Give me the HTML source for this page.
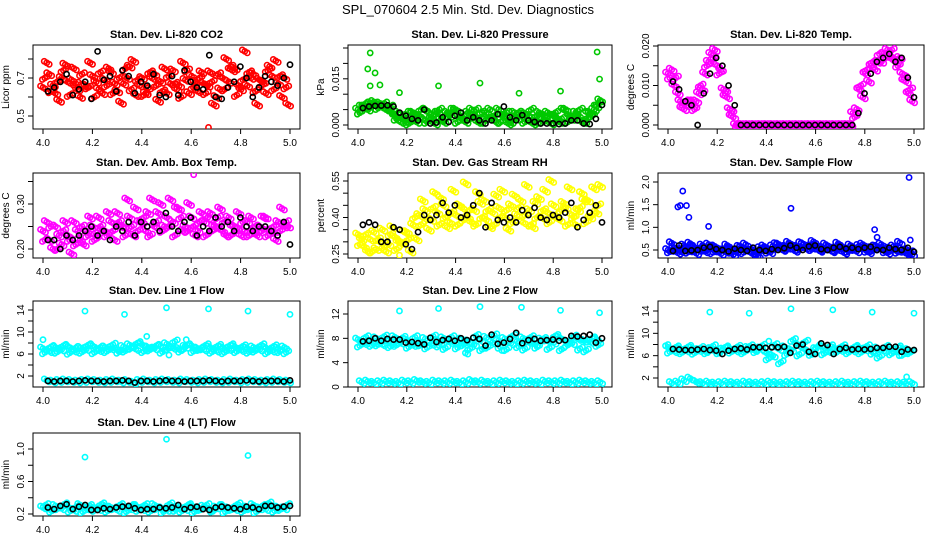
<!DOCTYPE html>
<html><head><meta charset="utf-8"><style>
html,body{margin:0;padding:0;background:#fff}
svg{display:block;font-family:"Liberation Sans",sans-serif}
</style></head><body>
<svg id="chart" width="936" height="540" viewBox="0 0 936 540">
<text x="468" y="14" text-anchor="middle" font-size="13">SPL_070604  2.5 Min. Std. Dev. Diagnostics</text>
</svg>
<script>
// ---------- data ----------
const xTicks = [4.0, 4.2, 4.4, 4.6, 4.8, 5.0];
const titles = ["Stan. Dev. Li-820 CO2","Stan. Dev. Li-820 Pressure","Stan. Dev. Li-820 Temp.","Stan. Dev. Amb. Box Temp.","Stan. Dev. Gas Stream RH","Stan. Dev. Sample Flow","Stan. Dev. Line 1 Flow","Stan. Dev. Line 2 Flow","Stan. Dev. Line 3 Flow","Stan. Dev. Line 4 (LT) Flow"];
const yTitles = ["Licor ppm","kPa","degrees C","degrees C","percent","ml/min","ml/min","ml/min","ml/min","ml/min"];

const co2Band = [
[0.65,0.72,0.62,0.70,0.68,0.75,0.60,0.66,0.71,0.64,0.69,0.73,0.63,0.67,0.76,0.61,0.70,0.65,0.72,0.68,0.62,0.74,0.66,0.69,0.71,0.63,0.67,0.73,0.60,0.70,0.68,0.75,0.64,0.66,0.72,0.69,0.62,0.71,0.67,0.70],
[0.70,0.63,0.68,0.74,0.61,0.67,0.72,0.65,0.60,0.73,0.66,0.62,0.70,0.75,0.64,0.69,0.61,0.73,0.66,0.63,0.71,0.67,0.60,0.74,0.65,0.70,0.62,0.68,0.72,0.64,0.76,0.61,0.69,0.73,0.63,0.66,0.74,0.64,0.71,0.65],
[0.78,0.66,0.58,0.77,0.69,0.64,0.66,0.78,0.68,0.62,0.75,0.67,0.57,0.70,0.79,0.66,0.62,0.70,0.58,0.75,0.67,0.64,0.78,0.62,0.68,0.73,0.66,0.56,0.64,0.80,0.74,0.66,0.84,0.70,0.56,0.68,0.76,0.79,0.60,0.56]];
const co2OutX = [4.67]; const co2OutY = [0.44];
const co2Black = [0.63,0.65,0.68,0.72,0.61,0.64,0.68,0.59,0.84,0.69,0.71,0.63,0.74,0.71,0.62,0.68,0.66,0.72,0.61,0.60,0.71,0.61,0.74,0.68,0.65,0.64,0.82,0.60,0.59,0.65,0.68,0.76,0.70,0.60,0.65,0.71,0.68,0.66,0.70,0.77];

const presBand = [
[0.005,0.006,0.007,0.0065,0.006,0.005,0.003,0.001,0.002,0.004,0.003,0.005,0.002,0.004,0.001,0.003,0.005,0.002,0.004,0.003,0.001,0.004,0.002,0.005,0.003,0.001,0.002,0.004,0.003,0.001,0.002,0.004,0.003,0.001,0.005,0.002,0.003,0.001,0.004,0.006],
[0.004,0.007,0.006,0.0055,0.007,0.006,0.002,0.003,0.0005,0.002,0.005,0.001,0.003,0.005,0.002,0.004,0.001,0.003,0.002,0.005,0.004,0.002,0.003,0.001,0.004,0.002,0.004,0.001,0.005,0.003,0.001,0.003,0.004,0.002,0.001,0.003,0.005,0.002,0.003,0.007],
[0.006,0.005,0.0075,0.007,0.005,0.004,0.004,0.0015,0.004,0.001,0.002,0.004,0.0005,0.002,0.004,0.005,0.003,0.001,0.005,0.001,0.002,0.005,0.001,0.003,0.0005,0.004,0.003,0.002,0.0005,0.004,0.003,0.0005,0.002,0.005,0.003,0.004,0.001,0.004,0.005,0.008]];
const presOutX = [4.05,4.04,4.07,4.05,4.09,4.17,4.33,4.50,4.66,4.83,4.98,4.99];
const presOutY = [0.0234,0.0182,0.0169,0.0127,0.013,0.0105,0.0127,0.0136,0.0103,0.011,0.0237,0.0149];
const presBlack = [0.0055,0.006,0.0062,0.0063,0.0064,0.006,0.004,0.003,0.002,0.0015,0.005,0.0005,0.0008,0.0025,0.001,0.003,0.004,0.0015,0.0025,0.0015,0.0005,0.0015,0.0035,0.006,0.0025,0.0015,0.0032,0.0015,0.001,0.0005,0.0005,0.0005,0.0003,0.0005,0.0015,0.0015,0.0005,0.0003,0.002,0.0065];

const tempBand = [
[0.013,0.010,0.006,0.005,0.005,0.008,0.013,0.018,0.015,0.009,0.004,0,0,0,0,0,0,0,0,0,0,0,0,0,0,0,0,0,0,0,0.003,0.009,0.013,0.015,0.016,0.018,0.017,0.016,0.013,0.008],
[0.012,0.012,0.005,0.006,0.004,0.010,0.015,0.017,0.013,0.008,0.003,0,0,0,0,0,0,0,0,0,0,0,0,0,0,0,0,0,0,0,0.002,0.010,0.014,0.016,0.018,0.017,0.019,0.015,0.012,0.009],
[0.014,0.008,0.004,0.006,0.006,0.009,0.016,0.019,0.014,0.007,0.002,0,0,0,0,0,0,0,0,0,0,0,0,0,0,0,0,0,0,0,0.004,0.007,0.011,0.014,0.016,0.019,0.017,0.017,0.011,0.006]];
const tempOutX = []; const tempOutY = [];
const tempBlack = [0.011,0.009,0.006,0.005,0.000,0.008,0.013,0.017,0.015,0.010,0.005,0,0,0,0,0,0,0,0,0,0,0,0,0,0,0,0,0,0,0,0.003,0.008,0.013,0.016,0.017,0.018,0.016,0.017,0.012,0.007];

const ambBand = [
[0.24,0.22,0.25,0.21,0.23,0.26,0.22,0.24,0.25,0.27,0.24,0.26,0.28,0.25,0.27,0.29,0.26,0.28,0.25,0.30,0.27,0.26,0.29,0.25,0.27,0.24,0.26,0.28,0.25,0.24,0.27,0.25,0.23,0.26,0.24,0.25,0.27,0.24,0.26,0.25],
[0.22,0.25,0.20,0.24,0.22,0.21,0.25,0.23,0.22,0.25,0.23,0.24,0.26,0.23,0.25,0.24,0.27,0.23,0.26,0.24,0.25,0.23,0.27,0.24,0.25,0.26,0.23,0.24,0.27,0.26,0.23,0.24,0.26,0.23,0.25,0.24,0.23,0.25,0.24,0.26],
[0.26,0.20,0.23,0.26,0.19,0.24,0.21,0.27,0.23,0.24,0.28,0.22,0.25,0.31,0.23,0.26,0.24,0.31,0.28,0.25,0.31,0.29,0.24,0.30,0.23,0.28,0.27,0.25,0.29,0.23,0.25,0.28,0.24,0.27,0.23,0.27,0.24,0.22,0.29,0.25]];
const ambOutX = [4.61]; const ambOutY = [0.365];
const ambBlack = [0.22,0.22,0.20,0.23,0.22,0.23,0.24,0.25,0.23,0.24,0.22,0.25,0.24,0.26,0.23,0.26,0.25,0.26,0.24,0.28,0.25,0.24,0.26,0.27,0.23,0.25,0.24,0.27,0.25,0.26,0.24,0.27,0.25,0.24,0.25,0.25,0.24,0.23,0.26,0.21];

const rhBand = [
[0.33,0.28,0.31,0.27,0.35,0.29,0.32,0.30,0.34,0.37,0.41,0.43,0.39,0.42,0.45,0.38,0.41,0.44,0.40,0.43,0.46,0.39,0.42,0.44,0.40,0.45,0.41,0.38,0.43,0.46,0.40,0.42,0.45,0.39,0.44,0.41,0.43,0.47,0.40,0.42],
[0.29,0.33,0.26,0.31,0.28,0.33,0.27,0.29,0.31,0.40,0.37,0.39,0.44,0.37,0.40,0.42,0.37,0.39,0.43,0.37,0.40,0.43,0.37,0.40,0.43,0.38,0.44,0.41,0.37,0.40,0.43,0.38,0.41,0.43,0.37,0.40,0.44,0.38,0.41,0.45],
[0.31,0.26,0.34,0.30,0.26,0.36,0.30,0.34,0.26,0.31,0.47,0.35,0.50,0.48,0.36,0.51,0.45,0.54,0.38,0.50,0.47,0.36,0.49,0.51,0.35,0.49,0.47,0.53,0.36,0.48,0.51,0.55,0.40,0.46,0.52,0.37,0.50,0.47,0.52,0.53]];
const rhOutX = [4.17]; const rhOutY = [0.245];
const rhBlack = [0.37,0.38,0.37,0.30,0.30,0.36,0.35,0.29,0.27,0.34,0.41,0.39,0.41,0.46,0.42,0.45,0.40,0.41,0.45,0.50,0.36,0.46,0.39,0.38,0.40,0.38,0.43,0.41,0.44,0.40,0.39,0.41,0.40,0.42,0.46,0.36,0.39,0.42,0.45,0.38];

const sampBand = [
[0.50,0.55,0.48,0.52,0.58,0.50,0.47,0.54,0.51,0.49,0.53,0.47,0.56,0.50,0.48,0.54,0.52,0.58,0.62,0.55,0.60,0.57,0.63,0.56,0.60,0.55,0.58,0.53,0.57,0.52,0.55,0.59,0.51,0.54,0.57,0.50,0.53,0.49,0.52,0.48],
[0.47,0.50,0.53,0.46,0.49,0.55,0.51,0.45,0.49,0.53,0.46,0.50,0.45,0.52,0.44,0.49,0.46,0.53,0.57,0.52,0.55,0.52,0.58,0.52,0.55,0.50,0.53,0.49,0.52,0.48,0.52,0.55,0.48,0.50,0.53,0.47,0.50,0.46,0.48,0.45],
[0.65,0.44,0.60,0.64,0.43,0.60,0.62,0.58,0.42,0.60,0.40,0.57,0.62,0.43,0.36,0.58,0.45,0.63,0.50,0.66,0.48,0.65,0.52,0.68,0.48,0.62,0.47,0.64,0.44,0.60,0.47,0.62,0.45,0.58,0.62,0.44,0.58,0.66,0.43,0.40]];
const sampOutX = [4.04,4.05,4.06,4.075,4.085,4.165,4.50,4.84,4.85,4.98,4.985];
const sampOutY = [1.45,1.48,1.80,1.48,1.22,1.02,1.42,0.95,0.78,2.10,0.72];
const sampBlack = [0.48,0.60,0.48,0.49,0.50,0.55,0.57,0.52,0.50,0.47,0.53,0.50,0.48,0.55,0.50,0.48,0.52,0.50,0.54,0.60,0.55,0.50,0.58,0.60,0.52,0.50,0.55,0.57,0.53,0.55,0.52,0.55,0.57,0.50,0.50,0.55,0.52,0.50,0.55,0.46];

const l1Band = [
[7.0,6.5,7.2,6.8,7.4,6.6,7.1,6.9,7.5,6.7,7.2,7.0,6.8,7.3,7.6,6.9,7.7,7.2,7.0,7.4,7.8,7.1,6.9,7.3,7.5,7.0,6.8,7.2,6.6,7.1,6.9,7.3,6.7,7.0,7.2,6.8,7.1,6.6,7.0,7.2],
[6.3,7.3,6.4,7.5,6.2,7.1,6.4,7.6,6.3,7.2,6.5,7.7,6.4,6.6,7.1,8.0,6.5,6.8,7.5,6.4,7.0,8.3,6.6,7.6,6.5,6.9,7.6,6.4,7.5,6.3,7.6,6.5,7.4,6.4,6.6,7.6,6.3,7.4,6.5,6.3],
[1.2,1.0,1.1,1.2,1.1,1.0,1.1,1.2,1.1,1.0,1.1,1.2,1.0,1.1,0.8,1.1,1.2,1.0,1.1,1.2,1.1,1.0,1.2,1.1,1.0,1.1,1.2,1.1,1.0,1.1,1.2,1.0,1.1,1.2,1.1,1.0,1.1,1.2,1.1,1.0]];
const l1OutX = [4.0,4.17,4.33,4.42,4.5,4.51,4.58,4.67,4.83,5.0];
const l1OutY = [8.6,13.8,13.2,9.2,14.4,5.8,8.6,14.2,13.8,13.2];
const l1Black = [1.1,1.0,1.1,1.1,1.0,1.1,1.2,1.1,1.1,1.0,1.1,1.1,1.2,1.1,0.8,1.1,1.1,1.0,1.1,1.2,1.1,1.1,1.0,1.1,1.1,1.1,1.2,1.1,1.0,1.1,1.1,1.1,1.2,1.1,1.0,1.1,1.1,1.1,1.0,1.2];

const l2Band = [
[7.8,7.2,7.5,8.0,7.0,7.6,8.2,7.3,7.7,6.9,7.4,7.9,7.1,7.6,8.0,7.4,7.2,7.8,7.5,7.0,7.7,8.1,7.3,7.6,7.9,7.2,7.5,8.0,7.4,7.1,7.8,7.6,7.3,8.1,7.5,7.2,7.9,7.6,7.4,7.8],
[6.8,8.2,6.9,7.0,8.3,6.7,6.9,8.1,6.6,8.2,7.0,6.5,8.3,6.8,6.4,8.2,6.5,7.0,6.3,8.4,6.2,6.6,8.5,6.6,6.2,8.4,6.7,6.3,8.2,6.6,7.9,6.4,8.4,6.2,6.9,8.3,6.3,6.0,8.0,6.9],
[0.8,0.9,0.7,0.8,0.9,0.8,0.7,0.9,0.8,1.0,0.8,0.7,0.9,0.8,0.8,0.9,0.7,0.8,1.0,0.8,0.9,0.7,0.8,0.9,0.8,0.7,0.8,0.9,0.8,0.7,0.9,0.8,0.8,0.9,0.7,0.8,0.9,0.8,0.7,0.8]];
const l2OutX = [4.17,4.33,4.44,4.45,4.5,4.59,4.67,4.83,4.99];
const l2OutY = [12.5,12.9,5.6,5.4,13.2,6.0,13.1,12.6,12.2];
const l2Black = [7.5,7.6,8.0,7.6,7.9,7.8,7.8,7.3,7.4,7.2,7.0,8.1,7.4,7.7,7.9,7.6,8.0,7.7,8.1,7.9,6.8,8.6,7.1,7.3,7.9,8.9,7.2,7.7,7.9,7.6,7.7,7.8,7.6,7.7,8.4,8.3,8.4,8.6,7.3,8.0];

const l3Band = [
[7.5,6.8,7.2,6.9,7.3,7.0,6.8,7.2,6.7,7.1,7.3,6.9,7.2,7.4,7.0,7.3,6.5,6.0,7.2,7.5,7.0,8.0,7.3,6.5,7.2,7.7,6.8,7.3,7.0,7.2,6.9,7.4,7.1,7.0,7.3,6.8,7.1,6.9,7.2,7.0],
[6.7,7.5,6.6,7.6,6.5,7.4,6.6,7.7,6.6,7.5,6.7,7.6,6.6,7.7,6.8,7.8,5.5,7.9,4.8,6.3,8.8,6.2,8.5,6.3,7.6,6.4,7.7,6.6,7.7,6.6,7.6,6.6,7.7,6.5,5.8,7.6,6.4,7.5,6.3,6.6],
[1.1,1.2,1.6,1.9,1.3,1.1,1.2,1.0,1.1,1.2,1.1,1.0,1.2,1.1,1.0,1.1,1.2,1.1,1.0,1.1,1.2,1.1,1.0,1.1,1.2,1.1,1.0,1.1,1.2,1.0,1.1,1.2,1.1,1.0,1.1,1.2,1.0,1.1,1.0,1.1]];
const l3OutX = [4.0,4.17,4.33,4.41,4.5,4.67,4.83,5.0,4.97,4.94];
const l3OutY = [8.0,13.8,13.6,8.6,14.4,14.2,13.8,13.6,2.2,6.0];
const l3Black = [7.2,7.1,7.0,7.0,7.1,7.2,7.0,6.9,6.3,6.9,7.2,7.3,7.1,7.5,7.5,7.4,7.5,7.5,7.6,6.5,7.8,8.0,6.7,6.3,8.2,7.9,6.3,7.2,7.4,7.1,7.2,7.1,7.2,7.4,7.4,7.6,7.6,6.7,7.1,7.0];

const l4Band = [
[0.28,0.26,0.30,0.27,0.29,0.25,0.31,0.27,0.28,0.26,0.30,0.28,0.25,0.29,0.27,0.30,0.26,0.28,0.31,0.27,0.25,0.29,0.28,0.26,0.30,0.27,0.29,0.25,0.28,0.30,0.27,0.26,0.29,0.28,0.31,0.27,0.26,0.30,0.28,0.27],
[0.31,0.24,0.27,0.32,0.24,0.29,0.23,0.30,0.25,0.32,0.24,0.27,0.31,0.23,0.30,0.25,0.31,0.24,0.27,0.23,0.32,0.25,0.24,0.31,0.23,0.26,0.31,0.24,0.30,0.23,0.26,0.32,0.24,0.27,0.23,0.30,0.33,0.24,0.26,0.31]];
const l4OutX = [4.17,4.5,4.83];
const l4OutY = [0.90,1.12,0.92];
const l4Black = [0.28,0.26,0.30,0.32,0.26,0.29,0.31,0.25,0.25,0.27,0.26,0.28,0.29,0.30,0.27,0.25,0.26,0.26,0.28,0.27,0.28,0.31,0.26,0.28,0.29,0.26,0.25,0.28,0.29,0.28,0.27,0.26,0.29,0.28,0.26,0.30,0.30,0.28,0.29,0.30];

const yTicks = [[0.5,0.6,0.7,0.8],[0,0.005,0.01,0.015,0.02,0.025],[0,0.005,0.01,0.015,0.02],[0.2,0.25,0.3,0.35],[0.25,0.3,0.35,0.4,0.45,0.5,0.55],[0.5,1.0,1.5,2.0],[2,4,6,8,10,12,14],[0,4,8,12],[2,4,6,8,10,12,14],[0.2,0.4,0.6,0.8,1.0]];
const yLabels = [["0.5","","0.7",""],["0.000","","","0.015","",""],["0.000","","0.010","","0.020"],["0.20","","0.30",""],["0.25","","","0.40","","","0.55"],["0.5","1.0","1.5","2.0"],["2","","6","","10","","14"],["0","4","8","12"],["2","","6","","10","","14"],["0.2","","0.6","","1.0"]];

// ---------- layout (not data) ----------
const cols = [{l:33,r:300,x0:43,x1:290},{l:348,r:612,x0:358,x1:602},{l:658,r:924,x0:668,x1:914}];
const rows = [{t:45,b:129},{t:173,b:258},{t:301,b:387},{t:433,b:516}];
const refs = [[0.5,116,0.7,78],[0,125,0.025,48],[0,125,0.02,46],[0.2,249,0.3,204],[0.25,254,0.55,181],[0.5,250,2.0,182],[2,376,14,310],[0,387,12,314],[2,378,14,311],[0.2,514,1.0,449]];
const colors = ["#ff0000","#00c800","#ff00ff","#ff00ff","#ffff00","#0000ff","#00ffff","#00ffff","#00ffff","#00ffff"];
const bands = [co2Band,presBand,tempBand,ambBand,rhBand,sampBand,l1Band,l2Band,l3Band,l4Band];
const outXs = [co2OutX,presOutX,tempOutX,ambOutX,rhOutX,sampOutX,l1OutX,l2OutX,l3OutX,l4OutX];
const outYs = [co2OutY,presOutY,tempOutY,ambOutY,rhOutY,sampOutY,l1OutY,l2OutY,l3OutY,l4OutY];
const blacks = [co2Black,presBlack,tempBlack,ambBlack,rhBlack,sampBlack,l1Black,l2Black,l3Black,l4Black];
const slugs = ["co2","pressure","temp","amb-temp","rh","sample-flow","line1-flow","line2-flow","line3-flow","line4-flow"];
// marker cluster (pixel offsets) to mimic the dense overplotting of the original
const clusterDX = [-2.5, 0, 2.5];
const clusterDY = [1.5, 0, -1.5];

const NS = "http://www.w3.org/2000/svg";
const svg = document.getElementById("chart");
function mk(tag, attrs, parent){ const e=document.createElementNS(NS,tag); for(const k in attrs) e.setAttribute(k,attrs[k]); (parent||svg).appendChild(e); return e; }

for(let p=0;p<10;p++){
  const c = cols[p%3], r = rows[Math.floor(p/3)];
  const xs = v => c.x0 + (v-4)*(c.x1-c.x0);
  const rf = refs[p];
  const ys = v => rf[1] + (v-rf[0])*(rf[3]-rf[1])/(rf[2]-rf[0]);
  const g = mk("g",{});
  
  
  const t = mk("text",{x:(c.l+c.r)/2,y:r.t-7,"text-anchor":"middle","font-size":"11","font-weight":"bold"},g);
  t.textContent = titles[p];
  
  
  const box = mk("rect",{x:c.l,y:r.t,width:c.r-c.l,height:r.b-r.t,fill:"none",stroke:"#000","stroke-width":"1"},g);
  
  
  const xa = mk("g",{},g);
  
  
  mk("line",{x1:xs(xTicks[0]),x2:xs(xTicks[xTicks.length-1]),y1:r.b,y2:r.b,stroke:"#000"},xa);
  xTicks.forEach(v=>{
    mk("line",{x1:xs(v),x2:xs(v),y1:r.b,y2:r.b+5,stroke:"#000"},xa);
    const tl = mk("text",{x:xs(v),y:r.b+17,"text-anchor":"middle","font-size":"10"},xa);
    tl.textContent = v.toFixed(1);
    
    
  });
  const ya = mk("g",{},g);
  
  
  const tk = yTicks[p];
  mk("line",{x1:c.l,x2:c.l,y1:ys(tk[0]),y2:ys(tk[tk.length-1]),stroke:"#000"},ya);
  tk.forEach((v,i)=>{
    mk("line",{x1:c.l-5,x2:c.l,y1:ys(v),y2:ys(v),stroke:"#000"},ya);
    if(yLabels[p][i]){
      const lx=c.l-9, ly=ys(v);
      const tl = mk("text",{x:lx,y:ly,"text-anchor":"middle","font-size":"10",transform:`rotate(-90 ${lx} ${ly})`},ya);
      tl.textContent = yLabels[p][i];
      
      
    }
  });
  const yx=c.l-24, yy=(r.t+r.b)/2;
  const yt = mk("text",{x:yx,y:yy,"text-anchor":"middle","font-size":"10",transform:`rotate(-90 ${yx} ${yy})`},g);
  yt.textContent = yTitles[p];
  
  
  const cid="clip"+p;
  const cp = mk("clipPath",{id:cid},g);
  mk("rect",{x:c.l,y:r.t,width:c.r-c.l,height:r.b-r.t},cp);
  const pts = mk("g",{"clip-path":`url(#${cid})`,fill:"none"},g);
  
  
  const col = colors[p];
  bands[p].forEach((row,k)=>{
    row.forEach((v,i)=>{
      const tx = 4 + (i + k/bands[p].length*0.9)/(row.length-1+0.9);
      const cx = xs(tx), cy = ys(v);
      clusterDX.forEach((dx,j)=>{
        const ci = mk("circle",{cx:cx+dx,cy:cy+clusterDY[j]*(k%2?1:-1),r:2.6,stroke:col,"stroke-width":"1.6"},pts);
        
        
      });
    });
  });
  outXs[p].forEach((x,i)=>{
    const ci = mk("circle",{cx:xs(x),cy:ys(outYs[p][i]),r:2.6,stroke:col,"stroke-width":"1.6"},pts);
    
    
  });
  const bl = blacks[p];
  bl.forEach((v,i)=>{
    const tx = 4 + 0.02 + i*(0.98/(bl.length-1));
    const ci = mk("circle",{cx:xs(tx),cy:ys(v),r:2.6,stroke:"#000","stroke-width":"1.6"},pts);
    
    
  });
}
</script>
</body></html>
